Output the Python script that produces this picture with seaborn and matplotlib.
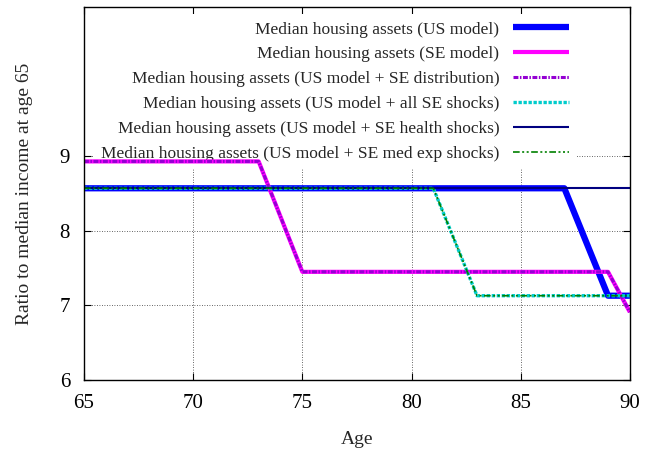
import numpy as np
import pandas as pd
import matplotlib
matplotlib.use("Agg")
import matplotlib.pyplot as plt
import seaborn as sns

# Dados
idades = list(range(65, 91))
us_model = [8.57] * 23 + [7.85, 7.13, 7.13]                 # 65..87, 88, 89, 90
se_model = [8.93] * 9 + [8.19] + [7.45] * 15 + [6.91]       # 65..73, 74, 75..89, 90
us_se_dist = [8.93] * 9 + [8.19] + [7.45] * 15 + [6.91]
us_all_se = [8.57] * 17 + [7.85] + [7.13] * 8               # 65..81, 82, 83..90
us_health = [8.57] * 26
us_medexp = [8.57] * 17 + [7.85] + [7.13] * 8

rotulos = ["Median housing assets (US model)",
           "Median housing assets (SE model)",
           "Median housing assets (US model + SE distribution)",
           "Median housing assets (US model + all SE shocks)",
           "Median housing assets (US model + SE health shocks)",
           "Median housing assets (US model + SE med exp shocks)"]

sns.set_theme(style="ticks")
plt.rcParams['font.family'] = ['Liberation Serif', 'DejaVu Serif']
plt.rcParams['font.size'] = 12

fig, ax = plt.subplots(figsize=(6.46, 4.51), dpi=100)
fig.subplots_adjust(left=0.130, right=0.975, top=0.9845, bottom=0.1574)

estilos = [
    dict(color='#0000ff', lw=4.5, linestyle='-'),
    dict(color='#ff00ff', lw=3.0, linestyle='-'),
    dict(color='#9400d3', lw=2.2, linestyle=(0, (1.6, 0.5, 0.5, 0.5))),
    dict(color='#00cccc', lw=2.4, linestyle=(0, (1.0, 0.5))),
    dict(color='#000080', lw=1.5, linestyle='-'),
    dict(color='#008000', lw=1.2, linestyle=(0, (4, 1.5, 1.2, 1.5, 1.2, 1.5))),
]
series = [us_model, se_model, us_se_dist, us_all_se, us_health, us_medexp]

for vals, rot, est in zip(series, rotulos, estilos):
    sns.lineplot(x=idades, y=vals, ax=ax, label=rot, solid_capstyle='butt',
                 dash_capstyle='butt', **est)

ax.set_xlim(65, 90)
ax.set_ylim(6, 11)
ax.set_xticks([65, 70, 75, 80, 85, 90])
ax.set_yticks([6, 7, 8, 9])
ax.tick_params(direction='in', top=True, right=True, length=5, width=0.8,
               labelsize=15, color='black', labelcolor='black')
ax.tick_params(axis='x', pad=10)
ax.tick_params(axis='y', pad=10)
for s in ax.spines.values():
    s.set_color('black')
    s.set_linewidth(1.0)
ax.grid(True, color='black', linestyle=(0, (1, 2)), linewidth=0.6, alpha=0.8)

ax.set_xlabel("Age", fontsize=14, labelpad=13)
ax.set_ylabel("Ratio to median income at age 65", fontsize=14, labelpad=19)

# legenda com fundo branco, por baixo das linhas mas por cima da grade
leg = ax.legend(loc='upper right', bbox_to_anchor=(0.901, 0.980), borderaxespad=0,
                markerfirst=False, frameon=True, fontsize=12.5, handlelength=3.2,
                handletextpad=0.8, labelspacing=0.5, borderpad=0.4, fancybox=False)
leg.get_frame().set_edgecolor('none')
leg.get_frame().set_facecolor('white')
leg.get_frame().set_alpha(1)
leg.set_zorder(1.8)

fig.savefig("out.png", dpi=100)
